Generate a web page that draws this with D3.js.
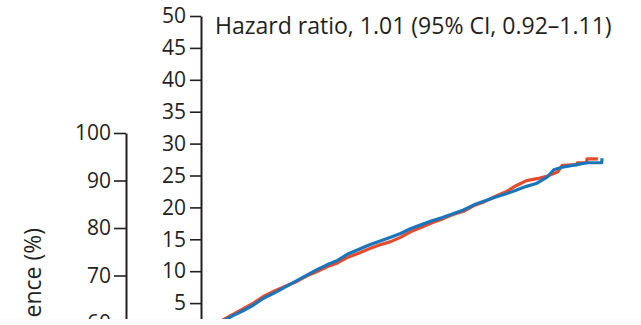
<!DOCTYPE html>
<html lang="en">
<head>
<meta charset="utf-8">
<title>Cumulative incidence</title>
<script src="https://cdn.jsdelivr.net/npm/d3@7"></script>
<style>
  * { margin: 0; padding: 0; box-sizing: border-box; }
  body { background: #fff; overflow: hidden; }
  svg { display: block; }
  text { font-family: "Open Sans", Lato, sans-serif; fill: #231f20; }
</style>
</head>
<body>
<svg id="chart" width="641" height="325"></svg>
<script>
// years since start
const redTimes = [0, 0.25, 0.5, 0.75, 1, 1.25, 1.5, 1.75, 2, 2.25, 2.5, 2.75, 3, 3.25, 3.5, 3.75,
  4, 4.25, 4.5, 4.75, 5, 5.25, 5.5, 5.75, 6, 6.25, 6.5, 6.75, 7, 7.25, 7.5, 7.75,
  8, 8.25, 8.5, 8.6, 8.95, 8.96, 9.18, 9.19, 9.45];
const redValues = [0, 1.2, 2.3, 3.2, 4.1, 5.0, 6.1, 6.9, 7.6, 8.3, 9.2, 9.9, 10.7, 11.3, 12.2, 12.8,
  13.5, 14.1, 14.6, 15.3, 16.2, 16.9, 17.6, 18.2, 18.9, 19.4, 20.3, 20.9, 21.7, 22.4, 23.4, 24.2,
  24.5, 24.9, 25.6, 26.6, 26.7, 27.0, 27.0, 27.6, 27.6];
const blueTimes = [0, 0.25, 0.5, 0.75, 1, 1.25, 1.5, 1.75, 2, 2.25, 2.5, 2.75, 3, 3.25, 3.5, 3.75,
  4, 4.25, 4.5, 4.75, 5, 5.25, 5.5, 5.75, 6, 6.25, 6.5, 6.75, 7, 7.25, 7.5, 7.75,
  8, 8.25, 8.4, 8.6, 8.95, 9.19, 9.54, 9.55];
const blueValues = [0, 1.0, 2.1, 3.0, 3.8, 4.7, 5.8, 6.6, 7.5, 8.4, 9.3, 10.2, 11.0, 11.7, 12.7, 13.4,
  14.1, 14.7, 15.3, 15.9, 16.7, 17.3, 17.9, 18.4, 19.0, 19.6, 20.4, 21.0, 21.6, 22.1, 22.7, 23.3,
  23.8, 24.8, 25.9, 26.3, 26.7, 27.0, 27.0, 27.7];

const outerTicks = [60, 70, 80, 90, 100];
const insetTicks = [5, 10, 15, 20, 25, 30, 35, 40, 45, 50];
const yTitle = "Cumulative Incidence (%)";
const hrLabel = "Hazard ratio, 1.01 (95% CI, 0.92\u20131.11)";

const svg = d3.select("#chart");

// main panel axis (0-100), mostly cropped away
const yOuter = d3.scaleLinear().domain([0, 100]).range([608, 133]);
const outerAxis = svg.append("g")
  .attr("transform", "translate(126,0)")
  .call(d3.axisLeft(yOuter).tickValues(outerTicks).tickSize(12).tickPadding(3).tickSizeOuter(0));

// inset axis (0-50)
const yInset = d3.scaleLinear().domain([0, 50]).range([335, 16]);
const xInset = d3.scaleLinear().domain([0, 10]).range([201, 621]);
const insetAxis = svg.append("g")
  .attr("transform", "translate(201,0)")
  .call(d3.axisLeft(yInset).tickValues(insetTicks).tickSize(11).tickPadding(4).tickSizeOuter(0));

[outerAxis, insetAxis].forEach((g) => {
  g.select(".domain").attr("stroke", "#231f20").attr("stroke-width", 2);
  g.selectAll(".tick line").attr("stroke", "#231f20").attr("stroke-width", 1.6);
  g.selectAll(".tick text").attr("font-size", 21).attr("fill", "#231f20")
    .style("font-family", "'Open Sans', sans-serif");
});

svg.append("text")
  .attr("transform", "translate(41,228) rotate(-90)")
  .attr("text-anchor", "end")
  .attr("font-size", 23)
  .text(yTitle);

const hr = svg.append("text")
  .attr("x", 215)
  .attr("y", 34)
  .attr("font-size", 20)
  .text(hrLabel);
// fit to the width seen in the reference
const hrWidth = hr.node().getComputedTextLength();
hr.attr("font-size", 20 * 397 / hrWidth);

const redData = redTimes.map((t, i) => [t, redValues[i]]);
const blueData = blueTimes.map((t, i) => [t, blueValues[i]]);

const line = d3.line()
  .x((d) => xInset(d[0]))
  .y((d) => yInset(d[1]));

svg.append("path").datum(redData)
  .attr("d", line).attr("fill", "none")
  .attr("stroke", "#e64b2e").attr("stroke-width", 3.2).attr("stroke-linejoin", "round");

svg.append("path").datum(blueData)
  .attr("d", line).attr("fill", "none")
  .attr("stroke", "#1b75bb").attr("stroke-width", 3.2).attr("stroke-linejoin", "round");

// the reference is cut off along the bottom edge
svg.append("rect").attr("x", 0).attr("y", 319).attr("width", 641).attr("height", 6).attr("fill", "#fbfbfb");
</script>
</body>
</html>
